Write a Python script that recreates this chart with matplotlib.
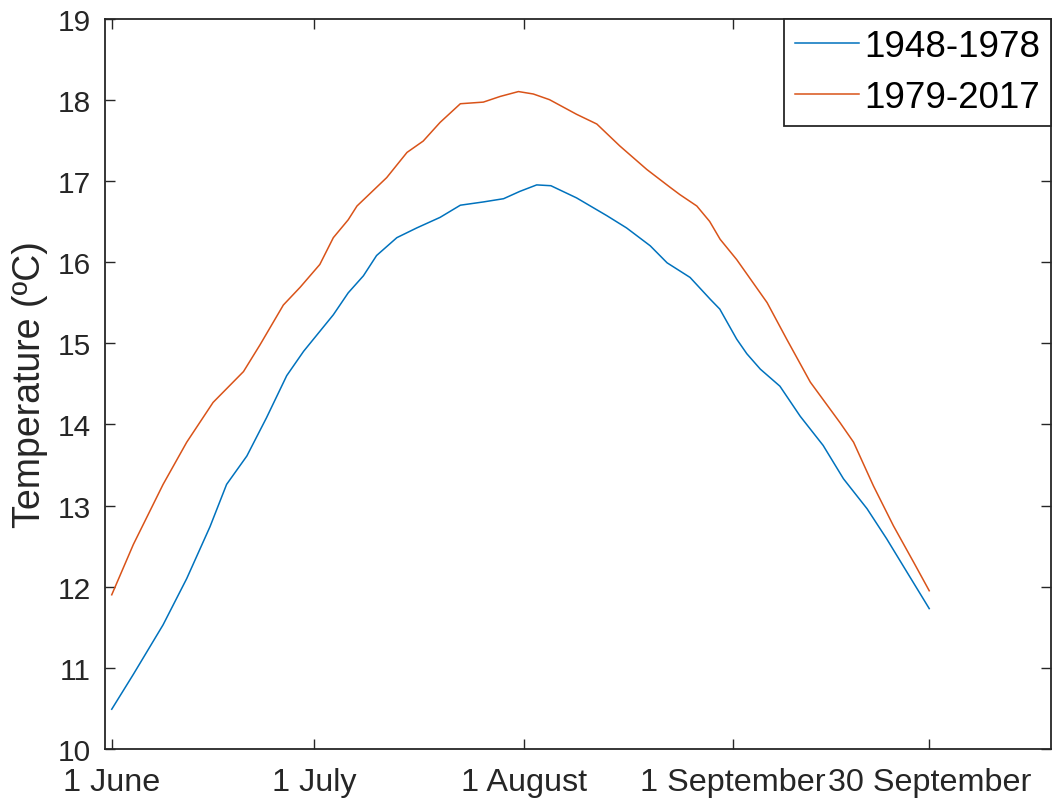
import numpy as np
import matplotlib.pyplot as plt

plt.rcParams['font.family'] = ['Liberation Sans', 'DejaVu Sans']

# ============================================================
# DATA (days after 1 June, temperature in ºC)
# ============================================================

days_early = [0, 3.2, 7.6, 11.1, 14.55, 17.0, 20.0, 22.9, 25.9, 28.4, 32.8, 35.0,
              37.25, 39.2, 42.2, 45.15, 48.6, 51.6, 55.0, 58.0, 60.4, 62.9, 65.0,
              68.8, 73.3, 76.2, 79.7, 82.2, 85.6, 88.6, 90.0, 92.5, 94.0, 96.0,
              98.9, 101.9, 105.3, 108.3, 111.8, 114.7, 117.7, 121]
temp_early = [10.49, 10.92, 11.53, 12.10, 12.74, 13.26, 13.61, 14.08, 14.60, 14.90,
              15.35, 15.62, 15.83, 16.08, 16.30, 16.42, 16.55, 16.70, 16.74, 16.78,
              16.87, 16.95, 16.94, 16.79, 16.57, 16.42, 16.20, 15.99, 15.81, 15.54,
              15.42, 15.05, 14.87, 14.68, 14.47, 14.10, 13.74, 13.33, 12.96, 12.59,
              12.18, 11.73]

days_late = [0, 3.2, 7.6, 11.1, 15.0, 19.5, 21.95, 25.4, 27.9, 30.8, 32.8, 35.0,
             36.3, 40.7, 43.7, 46.1, 48.6, 51.6, 55.0, 57.5, 60.2, 62.4, 64.8, 68.8,
             71.8, 75.2, 79.2, 82.65, 84.1, 86.6, 88.5, 90.05, 92.5, 97.0, 99.9,
             103.4, 107.8, 109.8, 112.75, 115.7, 118.7, 121]
temp_late = [11.90, 12.52, 13.26, 13.78, 14.27, 14.65, 14.98, 15.47, 15.69, 15.97,
             16.30, 16.52, 16.69, 17.04, 17.35, 17.49, 17.72, 17.95, 17.97, 18.04,
             18.10, 18.07, 18.00, 17.82, 17.70, 17.43, 17.14, 16.92, 16.83, 16.69,
             16.50, 16.28, 16.03, 15.50, 15.05, 14.52, 14.02, 13.78, 13.24, 12.75,
             12.30, 11.95]

series_labels = ['1948-1978', '1979-2017']
tick_days = [0, 30, 61, 92, 121]
tick_names = ['1 June', '1 July', '1 August', '1 September', '30 September']

# ============================================================
# PLOT
# ============================================================

AX_COL = '#262626'

fig = plt.figure(figsize=(10.54, 8.03), dpi=100)
ax = fig.add_axes([0.0996, 0.066, 0.8974, 0.9097])

ax.plot(days_early, temp_early, color='#0072BD', linewidth=1.1, label=series_labels[0])
ax.plot(days_late, temp_late, color='#D95319', linewidth=1.1, label=series_labels[1])

ax.set_xlim(-1, 139)
ax.set_ylim(10, 19)
ax.set_yticks(range(10, 20))
ax.set_xticks(tick_days)
ax.set_xticklabels(tick_names)

ax.tick_params(direction='in', length=7, width=1, colors=AX_COL,
               top=True, right=True)
ax.tick_params(axis='y', pad=10, labelsize=21.5)
ax.tick_params(axis='x', pad=13, labelsize=23.3)
for s in ax.spines.values():
    s.set_color(AX_COL)
    s.set_linewidth(1.3)

ax.set_ylabel('Temperature (ºC)', fontsize=27, color=AX_COL)
ax.yaxis.set_label_coords(-0.060, 0.5)

leg = ax.legend(loc='upper right', fontsize=26.5, borderaxespad=0, fancybox=False,
                handlelength=1.74, handletextpad=0.16, labelspacing=0.45,
                borderpad=0.28, framealpha=1)
leg.get_frame().set_edgecolor(AX_COL)
leg.get_frame().set_linewidth(1.3)

plt.savefig('out.png', dpi=100, facecolor='white')
